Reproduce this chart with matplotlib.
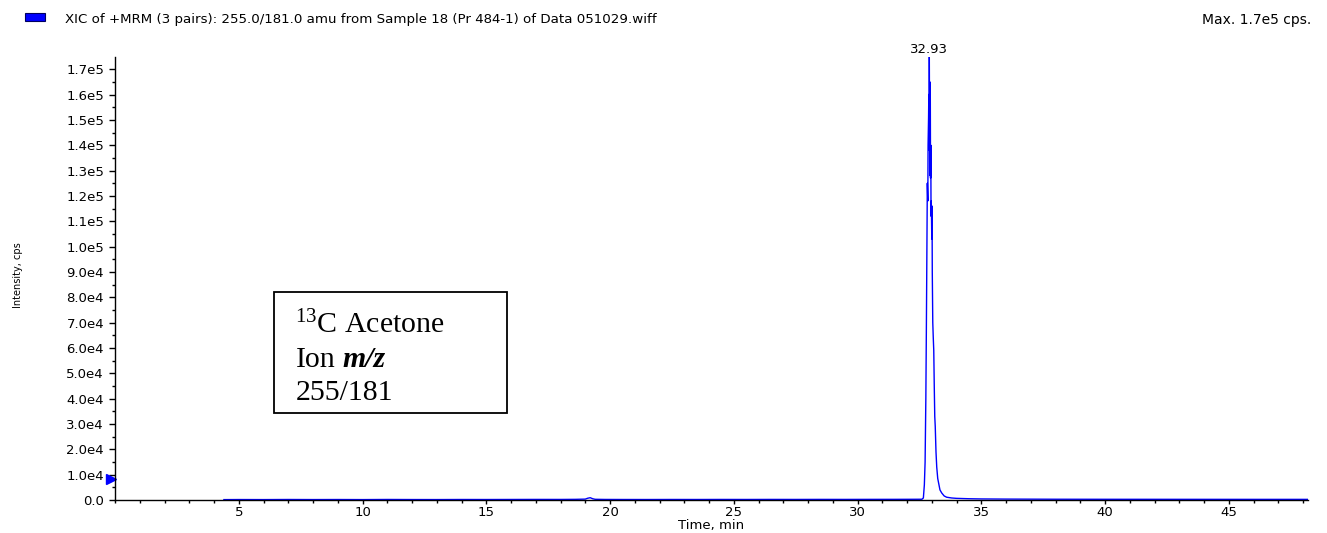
import numpy as np
import matplotlib
matplotlib.use("Agg")
import matplotlib.pyplot as plt
from matplotlib.patches import Rectangle
from matplotlib.ticker import MultipleLocator, FuncFormatter

# ---------------- data ----------------
baseline_time = [4.4, 5.0, 6.0, 7.0, 8.0, 9.0, 10.0, 11.0, 12.0, 13.0, 14.0, 15.0,
                 16.0, 17.0, 18.0, 18.6, 19.0, 19.1, 19.2, 19.3, 19.4, 19.8, 20.5,
                 21.5, 22.5, 23.5, 24.5, 25.5, 26.5, 27.5, 28.5, 29.5, 30.5, 31.5,
                 32.2]
baseline_int = [150, 180, 160, 200, 170, 190, 160, 210, 180, 170, 200, 190,
                210, 230, 220, 260, 350, 700, 900, 500, 280, 220, 200,
                190, 210, 200, 220, 210, 230, 220, 240, 230, 250, 260,
                280]

peak_time = [32.60, 32.66, 32.70, 32.73, 32.76, 32.78, 32.80, 32.82, 32.84, 32.85,
             32.87, 32.88, 32.89, 32.90, 32.91, 32.92, 32.93, 32.94, 32.95, 32.96,
             32.97, 32.98, 33.00, 33.01, 33.02, 33.04, 33.06, 33.08, 33.10, 33.12,
             33.14, 33.17, 33.20, 33.24, 33.28, 33.33, 33.40, 33.50]
peak_int = [300, 800, 6000, 15000, 40000, 66000, 95000, 125000, 118000, 140000,
            151000, 160000, 138000, 175000, 150000, 165000, 128000, 160000, 127000, 140000,
            112000, 118000, 103000, 116000, 90000, 70000, 64000, 59000, 45000, 33000,
            29000, 19000, 13000, 8500, 6500, 4000, 2800, 1600]

tail_time = [33.6, 33.8, 34.0, 34.5, 35.0, 36.0, 37.0, 38.0, 40.0, 42.0, 44.0, 46.0, 48.2]
tail_int = [1100, 800, 650, 500, 420, 360, 330, 300, 280, 270, 260, 250, 250]

peak_label = "32.93"
threshold_marker = 8300

x_major = [5, 10, 15, 20, 25, 30, 35, 40, 45]
y_major = [i * 1e4 for i in range(18)]

title_text = "XIC of +MRM (3 pairs): 255.0/181.0 amu from Sample 18 (Pr 484-1) of Data 051029.wiff"
max_text = "Max. 1.7e5 cps."
xlabel_text = "Time, min"
ylabel_text = "Intensity, cps"

time = np.array(baseline_time + peak_time + tail_time)
intensity = np.array(baseline_int + peak_int + tail_int)

# ---------------- figure ----------------
W, H = 1327, 533
fig = plt.figure(figsize=(W / 100, H / 100), dpi=100)

def fx(px):
    return px / W

def fy(py):
    return 1 - py / H

ax_left, ax_right, ax_top, ax_bottom = 115, 1308, 57, 500
ax = fig.add_axes([fx(ax_left), fy(ax_bottom), (ax_right - ax_left) / W, (ax_bottom - ax_top) / H])

BLUE = "#0000FF"
ax.plot(time, intensity, color=BLUE, lw=1.0)

ax.set_xlim(0, 48.2)
ax.set_ylim(0, 1.748e5)

for s in ["top", "right"]:
    ax.spines[s].set_visible(False)
for s in ["left", "bottom"]:
    ax.spines[s].set_linewidth(1.0)
    ax.spines[s].set_color("black")

ax.set_xticks(x_major)
ax.xaxis.set_minor_locator(MultipleLocator(1))
ax.set_yticks(y_major)
ax.yaxis.set_minor_locator(MultipleLocator(5e3))

def yfmt(v, pos):
    if v == 0:
        return "0.0"
    s = "%.1e" % v
    mant, exp = s.split("e")
    return "%se%d" % (mant, int(exp))

ax.yaxis.set_major_formatter(FuncFormatter(yfmt))

ax.tick_params(axis="y", which="major", direction="out", length=4.3, width=1, pad=3.6, labelsize=9.5)
ax.tick_params(axis="y", which="minor", direction="out", length=2.3, width=1)
ax.tick_params(axis="x", which="major", direction="out", length=2.9, width=1, pad=1.5, labelsize=9.5)
ax.tick_params(axis="x", which="minor", direction="out", length=2.3, width=1)
for lab in ax.get_xticklabels() + ax.get_yticklabels():
    lab.set_fontfamily("DejaVu Sans")

# threshold triangle at the left axis
ax.plot([-0.16], [threshold_marker], marker=">", color=BLUE, markersize=7, clip_on=False, linestyle="none")

# peak label
imax = int(np.argmax(intensity))
ax.annotate(peak_label, xy=(time[imax], intensity[imax]), xytext=(0, 0), textcoords="offset points",
            ha="center", va="bottom", fontsize=9.5, family="DejaVu Sans", annotation_clip=False)

# header
fig.patches.append(Rectangle((fx(25), fy(21)), (45 - 25) / W, 8 / H, transform=fig.transFigure,
                             facecolor=BLUE, edgecolor="#000060", lw=0.8))
fig.text(fx(65), fy(20), title_text, ha="left", va="center", fontsize=9.6, family="DejaVu Sans")
fig.text(fx(1311), fy(20), max_text, ha="right", va="center", fontsize=10, family="DejaVu Sans")

# axis labels
fig.text(fx(711), fy(525), xlabel_text, ha="center", va="center", fontsize=9.5, family="DejaVu Sans")
fig.text(fx(18), fy(275), ylabel_text, ha="center", va="center", rotation=90, fontsize=7, family="DejaVu Sans")

# annotation box
fig.patches.append(Rectangle((fx(274), fy(413)), (507 - 274) / W, (413 - 292) / H, transform=fig.transFigure,
                             facecolor="white", edgecolor="black", lw=1.3, zorder=5))
serif = dict(family="Liberation Serif", size=21.5)
plt.rcParams["mathtext.fontset"] = "custom"
plt.rcParams["mathtext.rm"] = "Liberation Serif"
plt.rcParams["mathtext.it"] = "Liberation Serif:italic"
plt.rcParams["mathtext.bf"] = "Liberation Serif:bold"
fig.text(fx(295), fy(333), r"${}^{13}$C Acetone", ha="left", va="baseline", zorder=6, **serif)
t_ion = fig.text(fx(296), fy(367), "Ion", ha="left", va="baseline", zorder=6, **serif)
renderer = fig.canvas.get_renderer()
bb = t_ion.get_window_extent(renderer)
fig.text((bb.x1 + 7) / W, fy(367), "m/z", ha="left", va="baseline", zorder=6,
         family="Liberation Serif", size=21.5, weight="bold", style="italic")
fig.text(fx(296), fy(400), "255/181", ha="left", va="baseline", zorder=6, **serif)

fig.savefig("out.png", dpi=100)
